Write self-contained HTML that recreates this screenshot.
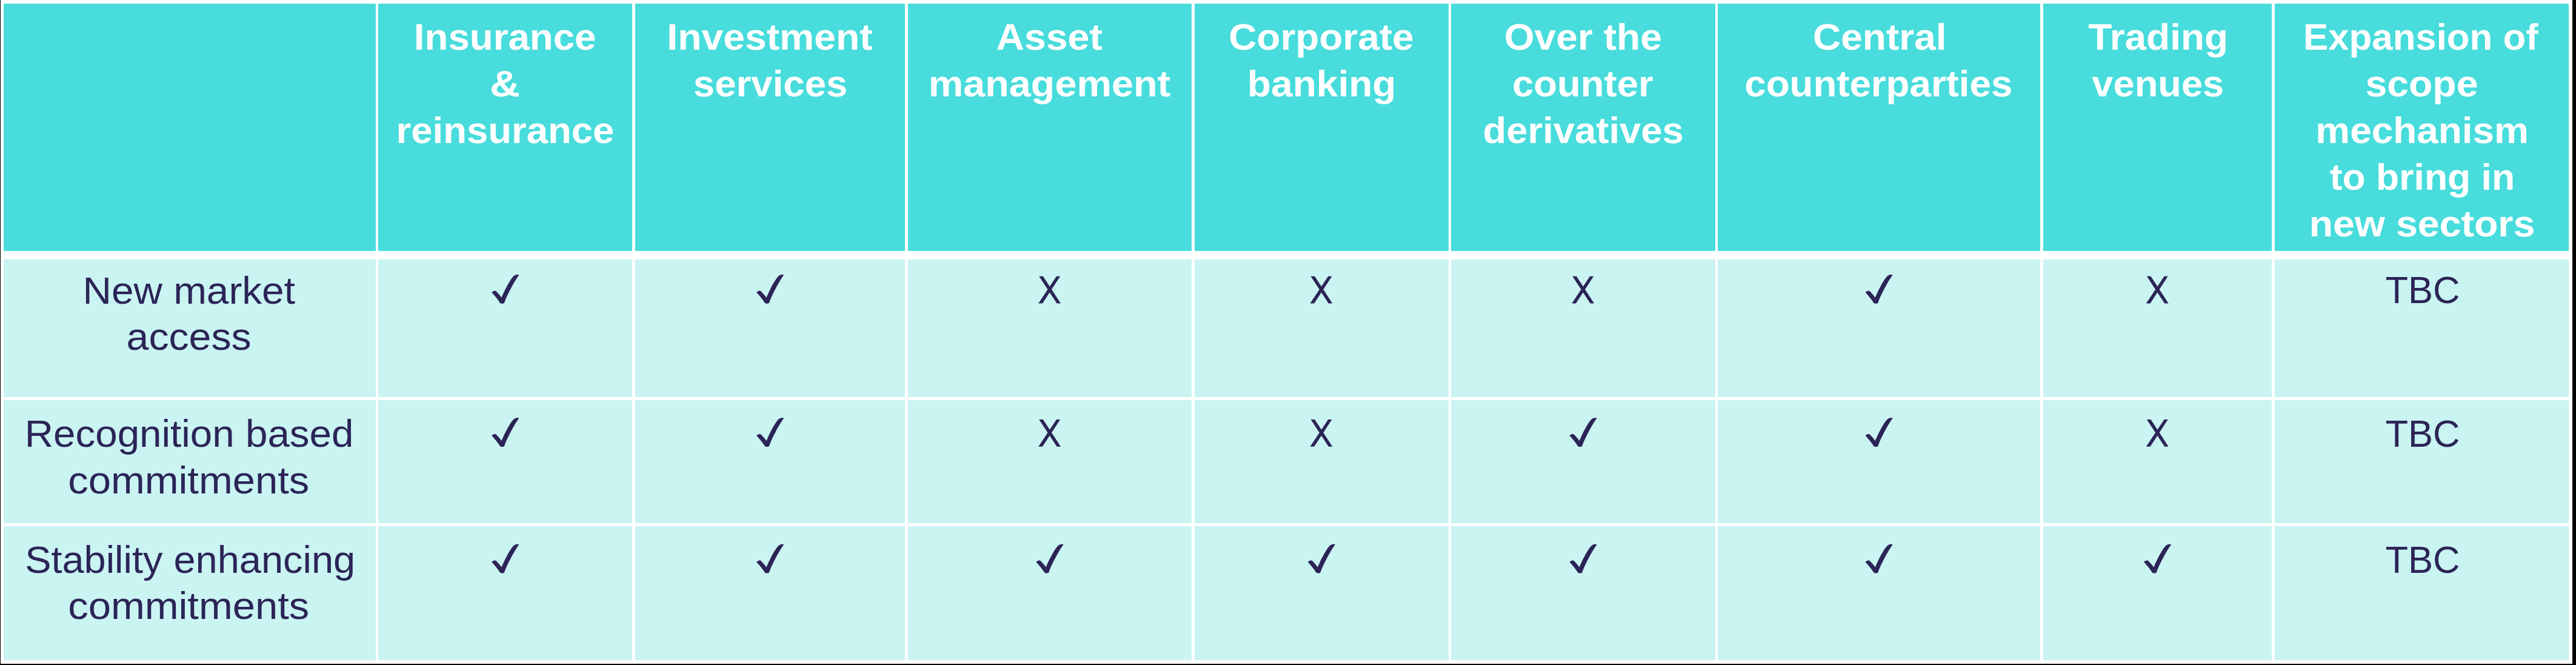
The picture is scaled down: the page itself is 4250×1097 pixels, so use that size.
<!DOCTYPE html>
<html><head><meta charset="utf-8"><style>
html,body{margin:0;padding:0}
body{width:4250px;height:1097px;position:relative;overflow:hidden;background:#fff;font-family:"Liberation Sans",sans-serif}
.b{position:absolute;background:#000}
.c{position:absolute}
.h{background:#48dcdc}
.l{background:#c9f4f2}
.t{position:absolute;width:1000px;text-align:center;white-space:nowrap;line-height:77px;font-size:64px}
.t span{display:inline-block;transform-origin:50% 60px}
.w{color:#fff;font-weight:bold}
.d{color:#2c2456}
svg{position:absolute;overflow:visible}
</style></head><body>

<div class="b" style="left:0;top:0;width:1px;height:1097px"></div>
<div class="b" style="left:4244px;top:0;width:6px;height:1097px"></div>
<div class="b" style="left:0;top:1095px;width:4250px;height:2px"></div>
<div class="c h" style="left:5.7px;top:5.5px;width:614.15px;height:408.4px"></div>
<div class="c h" style="left:624.2px;top:5.5px;width:419.1px;height:408.4px"></div>
<div class="c h" style="left:1048.0px;top:5.5px;width:445.3px;height:408.4px"></div>
<div class="c h" style="left:1498.0px;top:5.5px;width:467.9px;height:408.4px"></div>
<div class="c h" style="left:1970.75px;top:5.5px;width:418.95px;height:408.4px"></div>
<div class="c h" style="left:2394.3px;top:5.5px;width:435.4px;height:408.4px"></div>
<div class="c h" style="left:2834.3px;top:5.5px;width:531.6px;height:408.4px"></div>
<div class="c h" style="left:3370.75px;top:5.5px;width:377.6px;height:408.4px"></div>
<div class="c h" style="left:3753.05px;top:5.5px;width:485.25px;height:408.4px"></div>
<div class="c l" style="left:5.7px;top:428.0px;width:614.15px;height:226.7px"></div>
<div class="c l" style="left:624.2px;top:428.0px;width:419.1px;height:226.7px"></div>
<div class="c l" style="left:1048.0px;top:428.0px;width:445.3px;height:226.7px"></div>
<div class="c l" style="left:1498.0px;top:428.0px;width:467.9px;height:226.7px"></div>
<div class="c l" style="left:1970.75px;top:428.0px;width:418.95px;height:226.7px"></div>
<div class="c l" style="left:2394.3px;top:428.0px;width:435.4px;height:226.7px"></div>
<div class="c l" style="left:2834.3px;top:428.0px;width:531.6px;height:226.7px"></div>
<div class="c l" style="left:3370.75px;top:428.0px;width:377.6px;height:226.7px"></div>
<div class="c l" style="left:3753.05px;top:428.0px;width:485.25px;height:226.7px"></div>
<div class="c l" style="left:5.7px;top:659.9px;width:614.15px;height:203.0px"></div>
<div class="c l" style="left:624.2px;top:659.9px;width:419.1px;height:203.0px"></div>
<div class="c l" style="left:1048.0px;top:659.9px;width:445.3px;height:203.0px"></div>
<div class="c l" style="left:1498.0px;top:659.9px;width:467.9px;height:203.0px"></div>
<div class="c l" style="left:1970.75px;top:659.9px;width:418.95px;height:203.0px"></div>
<div class="c l" style="left:2394.3px;top:659.9px;width:435.4px;height:203.0px"></div>
<div class="c l" style="left:2834.3px;top:659.9px;width:531.6px;height:203.0px"></div>
<div class="c l" style="left:3370.75px;top:659.9px;width:377.6px;height:203.0px"></div>
<div class="c l" style="left:3753.05px;top:659.9px;width:485.25px;height:203.0px"></div>
<div class="c l" style="left:5.7px;top:868.0px;width:614.15px;height:220.9px"></div>
<div class="c l" style="left:624.2px;top:868.0px;width:419.1px;height:220.9px"></div>
<div class="c l" style="left:1048.0px;top:868.0px;width:445.3px;height:220.9px"></div>
<div class="c l" style="left:1498.0px;top:868.0px;width:467.9px;height:220.9px"></div>
<div class="c l" style="left:1970.75px;top:868.0px;width:418.95px;height:220.9px"></div>
<div class="c l" style="left:2394.3px;top:868.0px;width:435.4px;height:220.9px"></div>
<div class="c l" style="left:2834.3px;top:868.0px;width:531.6px;height:220.9px"></div>
<div class="c l" style="left:3370.75px;top:868.0px;width:377.6px;height:220.9px"></div>
<div class="c l" style="left:3753.05px;top:868.0px;width:485.25px;height:220.9px"></div>
<div class="t w" style="left:333.06px;top:22.4px"><span style="transform:scale(0.9943,0.965)">Insurance</span></div>
<div class="t w" style="left:333.16px;top:99.3px"><span style="transform:scale(1.0829,0.965)">&amp;</span></div>
<div class="t w" style="left:333.51px;top:176.2px"><span style="transform:scale(0.9916,0.965)">reinsurance</span></div>
<div class="t w" style="left:770.19px;top:22.4px"><span style="transform:scale(1.0042,0.965)">Investment</span></div>
<div class="t w" style="left:770.75px;top:99.3px"><span style="transform:scale(0.9932,0.965)">services</span></div>
<div class="t w" style="left:1230.9px;top:22.4px"><span style="transform:scale(1.0070,0.965)">Asset</span></div>
<div class="t w" style="left:1231.18px;top:99.3px"><span style="transform:scale(1.0113,0.965)">management</span></div>
<div class="t w" style="left:1679.95px;top:22.4px"><span style="transform:scale(0.9990,0.965)">Corporate</span></div>
<div class="t w" style="left:1680.25px;top:99.3px"><span style="transform:scale(1.0013,0.965)">banking</span></div>
<div class="t w" style="left:2111.45px;top:22.4px"><span style="transform:scale(1.0020,0.965)">Over the</span></div>
<div class="t w" style="left:2111.65px;top:99.3px"><span style="transform:scale(0.9918,0.965)">counter</span></div>
<div class="t w" style="left:2112.35px;top:176.2px"><span style="transform:scale(0.9906,0.965)">derivatives</span></div>
<div class="t w" style="left:2600.9px;top:22.4px"><span style="transform:scale(1.0009,0.965)">Central</span></div>
<div class="t w" style="left:2599.65px;top:99.3px"><span style="transform:scale(0.9943,0.965)">counterparties</span></div>
<div class="t w" style="left:3060.45px;top:22.4px"><span style="transform:scale(0.9987,0.965)">Trading</span></div>
<div class="t w" style="left:3060.29px;top:99.3px"><span style="transform:scale(0.9881,0.965)">venues</span></div>
<div class="t w" style="left:3494.27px;top:22.4px"><span style="transform:scale(0.9648,0.965)">Expansion of</span></div>
<div class="t w" style="left:3495.75px;top:99.3px"><span style="transform:scale(1.0050,0.965)">scope</span></div>
<div class="t w" style="left:3496.35px;top:176.2px"><span style="transform:scale(0.9980,0.965)">mechanism</span></div>
<div class="t w" style="left:3496.2px;top:253.1px"><span style="transform:scale(0.9763,0.965)">to bring in</span></div>
<div class="t w" style="left:3495.95px;top:330.0px"><span style="transform:scale(1.0074,0.965)">new sectors</span></div>
<div class="t d" style="left:-188.47px;top:440.5px"><span style="transform:scale(1.0263,0.985)">New market</span></div>
<div class="t d" style="left:-187.95px;top:517.3px"><span style="transform:scale(1.0345,0.985)">access</span></div>
<div class="t d" style="left:-187.91px;top:676.5px"><span style="transform:scale(1.0238,0.985)">Recognition based</span></div>
<div class="t d" style="left:-188.62px;top:753.8px"><span style="transform:scale(1.0464,0.985)">commitments</span></div>
<div class="t d" style="left:-186.59px;top:884.7px"><span style="transform:scale(1.0144,0.985)">Stability enhancing</span></div>
<div class="t d" style="left:-188.62px;top:960.9px"><span style="transform:scale(1.0464,0.985)">commitments</span></div>
<div class="t d" style="left:3496.51px;top:440.4px"><span style="transform:scale(0.9605,0.985)">TBC</span></div>
<div class="t d" style="left:3496.51px;top:676.8px"><span style="transform:scale(0.9605,0.985)">TBC</span></div>
<div class="t d" style="left:3496.51px;top:885.0px"><span style="transform:scale(0.9605,0.985)">TBC</span></div>
<svg style="left:811px;top:452px" width="48" height="50" viewBox="0 0 48 50"><path fill="#2c2456" transform="translate(0.10 0.90)" d="M0.2 29.6 C1.5 27.8 4 26.8 5.1 26.9 C6.5 26.9 7.2 27.2 7.6 27.5 C10.5 30.5 14 34.5 16.5 38 C19.5 30.5 29 10 36.3 2.6 C38 0.8 40 0 42 0 C44 0 45.5 0.3 45.1 0.9 C40 7.5 26 32 21.1 46.4 C20.5 47.6 19 48 17.7 47.9 C16 47.8 14.5 47.5 13.9 46.8 C11.5 43 3.5 32.5 0.2 29.6 Z"/></svg>
<svg style="left:1248px;top:452px" width="48" height="50" viewBox="0 0 48 50"><path fill="#2c2456" transform="translate(0.00 0.90)" d="M0.2 29.6 C1.5 27.8 4 26.8 5.1 26.9 C6.5 26.9 7.2 27.2 7.6 27.5 C10.5 30.5 14 34.5 16.5 38 C19.5 30.5 29 10 36.3 2.6 C38 0.8 40 0 42 0 C44 0 45.5 0.3 45.1 0.9 C40 7.5 26 32 21.1 46.4 C20.5 47.6 19 48 17.7 47.9 C16 47.8 14.5 47.5 13.9 46.8 C11.5 43 3.5 32.5 0.2 29.6 Z"/></svg>
<svg style="left:1713px;top:455px" width="39" height="47" viewBox="0 0 39 47"><path fill="#2c2456" transform="translate(0.25 0.70)" d="M1 0 H7.6 L36.8 44.8 H30.4 Z M29.8 0 H35.9 L6.7 44.8 H0 Z"/></svg>
<svg style="left:2161px;top:455px" width="39" height="47" viewBox="0 0 39 47"><path fill="#2c2456" transform="translate(0.52 0.70)" d="M1 0 H7.6 L36.8 44.8 H30.4 Z M29.8 0 H35.9 L6.7 44.8 H0 Z"/></svg>
<svg style="left:2593px;top:455px" width="39" height="47" viewBox="0 0 39 47"><path fill="#2c2456" transform="translate(0.30 0.70)" d="M1 0 H7.6 L36.8 44.8 H30.4 Z M29.8 0 H35.9 L6.7 44.8 H0 Z"/></svg>
<svg style="left:3077px;top:452px" width="48" height="50" viewBox="0 0 48 50"><path fill="#2c2456" transform="translate(0.45 0.90)" d="M0.2 29.6 C1.5 27.8 4 26.8 5.1 26.9 C6.5 26.9 7.2 27.2 7.6 27.5 C10.5 30.5 14 34.5 16.5 38 C19.5 30.5 29 10 36.3 2.6 C38 0.8 40 0 42 0 C44 0 45.5 0.3 45.1 0.9 C40 7.5 26 32 21.1 46.4 C20.5 47.6 19 48 17.7 47.9 C16 47.8 14.5 47.5 13.9 46.8 C11.5 43 3.5 32.5 0.2 29.6 Z"/></svg>
<svg style="left:3540px;top:455px" width="39" height="47" viewBox="0 0 39 47"><path fill="#2c2456" transform="translate(0.85 0.70)" d="M1 0 H7.6 L36.8 44.8 H30.4 Z M29.8 0 H35.9 L6.7 44.8 H0 Z"/></svg>
<svg style="left:811px;top:689px" width="48" height="50" viewBox="0 0 48 50"><path fill="#2c2456" transform="translate(0.10 0.20)" d="M0.2 29.6 C1.5 27.8 4 26.8 5.1 26.9 C6.5 26.9 7.2 27.2 7.6 27.5 C10.5 30.5 14 34.5 16.5 38 C19.5 30.5 29 10 36.3 2.6 C38 0.8 40 0 42 0 C44 0 45.5 0.3 45.1 0.9 C40 7.5 26 32 21.1 46.4 C20.5 47.6 19 48 17.7 47.9 C16 47.8 14.5 47.5 13.9 46.8 C11.5 43 3.5 32.5 0.2 29.6 Z"/></svg>
<svg style="left:1248px;top:689px" width="48" height="50" viewBox="0 0 48 50"><path fill="#2c2456" transform="translate(0.00 0.20)" d="M0.2 29.6 C1.5 27.8 4 26.8 5.1 26.9 C6.5 26.9 7.2 27.2 7.6 27.5 C10.5 30.5 14 34.5 16.5 38 C19.5 30.5 29 10 36.3 2.6 C38 0.8 40 0 42 0 C44 0 45.5 0.3 45.1 0.9 C40 7.5 26 32 21.1 46.4 C20.5 47.6 19 48 17.7 47.9 C16 47.8 14.5 47.5 13.9 46.8 C11.5 43 3.5 32.5 0.2 29.6 Z"/></svg>
<svg style="left:1713px;top:691px" width="39" height="47" viewBox="0 0 39 47"><path fill="#2c2456" transform="translate(0.25 0.90)" d="M1 0 H7.6 L36.8 44.8 H30.4 Z M29.8 0 H35.9 L6.7 44.8 H0 Z"/></svg>
<svg style="left:2161px;top:691px" width="39" height="47" viewBox="0 0 39 47"><path fill="#2c2456" transform="translate(0.52 0.90)" d="M1 0 H7.6 L36.8 44.8 H30.4 Z M29.8 0 H35.9 L6.7 44.8 H0 Z"/></svg>
<svg style="left:2589px;top:689px" width="48" height="50" viewBox="0 0 48 50"><path fill="#2c2456" transform="translate(0.35 0.20)" d="M0.2 29.6 C1.5 27.8 4 26.8 5.1 26.9 C6.5 26.9 7.2 27.2 7.6 27.5 C10.5 30.5 14 34.5 16.5 38 C19.5 30.5 29 10 36.3 2.6 C38 0.8 40 0 42 0 C44 0 45.5 0.3 45.1 0.9 C40 7.5 26 32 21.1 46.4 C20.5 47.6 19 48 17.7 47.9 C16 47.8 14.5 47.5 13.9 46.8 C11.5 43 3.5 32.5 0.2 29.6 Z"/></svg>
<svg style="left:3077px;top:689px" width="48" height="50" viewBox="0 0 48 50"><path fill="#2c2456" transform="translate(0.45 0.20)" d="M0.2 29.6 C1.5 27.8 4 26.8 5.1 26.9 C6.5 26.9 7.2 27.2 7.6 27.5 C10.5 30.5 14 34.5 16.5 38 C19.5 30.5 29 10 36.3 2.6 C38 0.8 40 0 42 0 C44 0 45.5 0.3 45.1 0.9 C40 7.5 26 32 21.1 46.4 C20.5 47.6 19 48 17.7 47.9 C16 47.8 14.5 47.5 13.9 46.8 C11.5 43 3.5 32.5 0.2 29.6 Z"/></svg>
<svg style="left:3540px;top:691px" width="39" height="47" viewBox="0 0 39 47"><path fill="#2c2456" transform="translate(0.85 0.90)" d="M1 0 H7.6 L36.8 44.8 H30.4 Z M29.8 0 H35.9 L6.7 44.8 H0 Z"/></svg>
<svg style="left:811px;top:897px" width="48" height="50" viewBox="0 0 48 50"><path fill="#2c2456" transform="translate(0.10 0.70)" d="M0.2 29.6 C1.5 27.8 4 26.8 5.1 26.9 C6.5 26.9 7.2 27.2 7.6 27.5 C10.5 30.5 14 34.5 16.5 38 C19.5 30.5 29 10 36.3 2.6 C38 0.8 40 0 42 0 C44 0 45.5 0.3 45.1 0.9 C40 7.5 26 32 21.1 46.4 C20.5 47.6 19 48 17.7 47.9 C16 47.8 14.5 47.5 13.9 46.8 C11.5 43 3.5 32.5 0.2 29.6 Z"/></svg>
<svg style="left:1248px;top:897px" width="48" height="50" viewBox="0 0 48 50"><path fill="#2c2456" transform="translate(0.00 0.70)" d="M0.2 29.6 C1.5 27.8 4 26.8 5.1 26.9 C6.5 26.9 7.2 27.2 7.6 27.5 C10.5 30.5 14 34.5 16.5 38 C19.5 30.5 29 10 36.3 2.6 C38 0.8 40 0 42 0 C44 0 45.5 0.3 45.1 0.9 C40 7.5 26 32 21.1 46.4 C20.5 47.6 19 48 17.7 47.9 C16 47.8 14.5 47.5 13.9 46.8 C11.5 43 3.5 32.5 0.2 29.6 Z"/></svg>
<svg style="left:1709px;top:897px" width="48" height="50" viewBox="0 0 48 50"><path fill="#2c2456" transform="translate(0.30 0.70)" d="M0.2 29.6 C1.5 27.8 4 26.8 5.1 26.9 C6.5 26.9 7.2 27.2 7.6 27.5 C10.5 30.5 14 34.5 16.5 38 C19.5 30.5 29 10 36.3 2.6 C38 0.8 40 0 42 0 C44 0 45.5 0.3 45.1 0.9 C40 7.5 26 32 21.1 46.4 C20.5 47.6 19 48 17.7 47.9 C16 47.8 14.5 47.5 13.9 46.8 C11.5 43 3.5 32.5 0.2 29.6 Z"/></svg>
<svg style="left:2157px;top:897px" width="48" height="50" viewBox="0 0 48 50"><path fill="#2c2456" transform="translate(0.57 0.70)" d="M0.2 29.6 C1.5 27.8 4 26.8 5.1 26.9 C6.5 26.9 7.2 27.2 7.6 27.5 C10.5 30.5 14 34.5 16.5 38 C19.5 30.5 29 10 36.3 2.6 C38 0.8 40 0 42 0 C44 0 45.5 0.3 45.1 0.9 C40 7.5 26 32 21.1 46.4 C20.5 47.6 19 48 17.7 47.9 C16 47.8 14.5 47.5 13.9 46.8 C11.5 43 3.5 32.5 0.2 29.6 Z"/></svg>
<svg style="left:2589px;top:897px" width="48" height="50" viewBox="0 0 48 50"><path fill="#2c2456" transform="translate(0.35 0.70)" d="M0.2 29.6 C1.5 27.8 4 26.8 5.1 26.9 C6.5 26.9 7.2 27.2 7.6 27.5 C10.5 30.5 14 34.5 16.5 38 C19.5 30.5 29 10 36.3 2.6 C38 0.8 40 0 42 0 C44 0 45.5 0.3 45.1 0.9 C40 7.5 26 32 21.1 46.4 C20.5 47.6 19 48 17.7 47.9 C16 47.8 14.5 47.5 13.9 46.8 C11.5 43 3.5 32.5 0.2 29.6 Z"/></svg>
<svg style="left:3077px;top:897px" width="48" height="50" viewBox="0 0 48 50"><path fill="#2c2456" transform="translate(0.45 0.70)" d="M0.2 29.6 C1.5 27.8 4 26.8 5.1 26.9 C6.5 26.9 7.2 27.2 7.6 27.5 C10.5 30.5 14 34.5 16.5 38 C19.5 30.5 29 10 36.3 2.6 C38 0.8 40 0 42 0 C44 0 45.5 0.3 45.1 0.9 C40 7.5 26 32 21.1 46.4 C20.5 47.6 19 48 17.7 47.9 C16 47.8 14.5 47.5 13.9 46.8 C11.5 43 3.5 32.5 0.2 29.6 Z"/></svg>
<svg style="left:3536px;top:897px" width="48" height="50" viewBox="0 0 48 50"><path fill="#2c2456" transform="translate(0.90 0.70)" d="M0.2 29.6 C1.5 27.8 4 26.8 5.1 26.9 C6.5 26.9 7.2 27.2 7.6 27.5 C10.5 30.5 14 34.5 16.5 38 C19.5 30.5 29 10 36.3 2.6 C38 0.8 40 0 42 0 C44 0 45.5 0.3 45.1 0.9 C40 7.5 26 32 21.1 46.4 C20.5 47.6 19 48 17.7 47.9 C16 47.8 14.5 47.5 13.9 46.8 C11.5 43 3.5 32.5 0.2 29.6 Z"/></svg>
</body></html>
